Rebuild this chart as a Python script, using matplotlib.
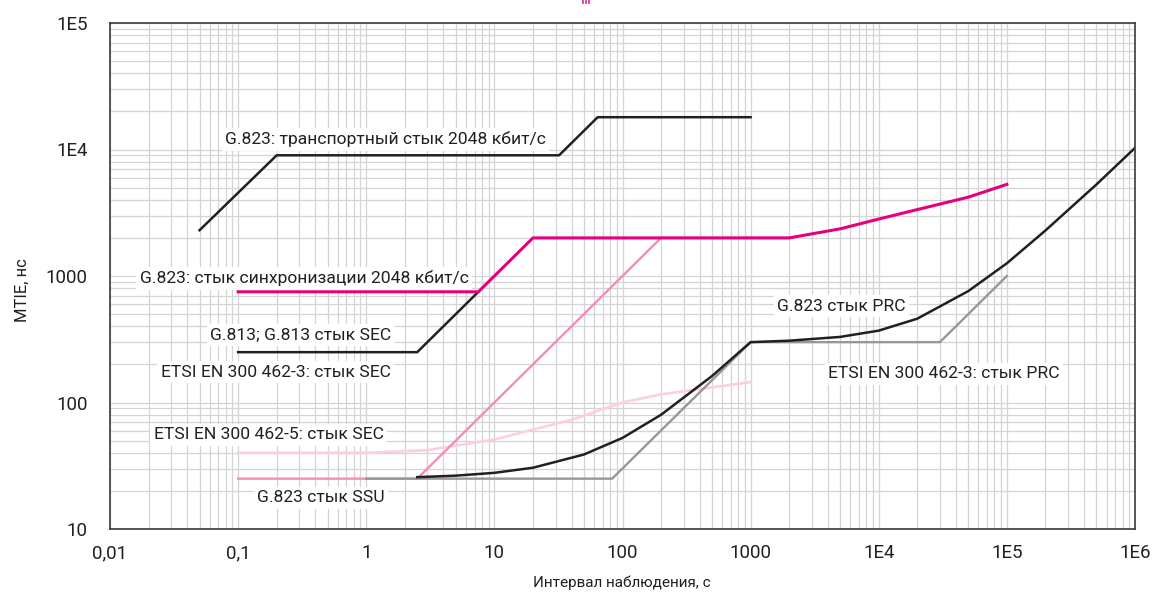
import matplotlib
matplotlib.use("Agg")
import matplotlib.pyplot as plt
from matplotlib.patches import Rectangle

FONT = ['Roboto', 'DejaVu Sans']
plt.rcParams['font.family'] = FONT

# ---- data ----
tr_x = [0.05, 0.2, 32, 64, 1000]
tr_y = [2300, 9000, 9000, 18000, 18000]

sync_x = [0.1, 7.5, 20, 2000, 5000, 10000, 20000, 50000, 100000]
sync_y = [750, 750, 2000, 2000, 2360, 2820, 3350, 4200, 5300]

sec_x = [0.1, 2.5, 7.5]
sec_y = [250, 250, 750]

ssu_x = [0.1, 2.5, 200, 2000]
ssu_y = [25, 25, 2000, 2000]

etsi5_x = [0.1, 1, 3, 10, 20, 40, 100, 200, 1000]
etsi5_y = [40, 40, 42, 51, 61, 73, 100, 116, 145]

prc_x = [2.5, 5, 10, 20, 50, 100, 200, 500, 1000, 2000, 5000, 10000, 20000, 50000,
         100000, 200000, 500000, 1000000]
prc_y = [25.7, 26.4, 27.8, 30.5, 38.8, 52.5, 80, 162, 300, 308, 330, 370, 460, 760,
         1260, 2290, 5290, 10300]

eprc_x = [1, 83, 1000, 30000, 100000]
eprc_y = [25, 25, 300, 300, 1000]

x_ticks = [0.01, 0.1, 1, 10, 100, 1000, 1e4, 1e5, 1e6]
x_tick_labels = ['0,01', '0,1', '1', '10', '100', '1000', '1E4', '1E5', '1E6']
y_ticks = [10, 100, 1000, 1e4, 1e5]
y_tick_labels = ['10', '100', '1000', '1E4', '1E5']

labels = [
    ('G.823: транспортный стык 2048 кбит/с', 0.079, 12100),
    ('G.823: стык синхронизации 2048 кбит/с', 0.0171, 963),
    ('G.813; G.813 стык SEC', 0.0604, 342),
    ('ETSI EN 300 462-3: стык SEC', 0.025, 174),
    ('ETSI EN 300 462-5: стык SEC', 0.022, 55.4),
    ('G.823 стык SSU', 0.1406, 17.6),
    ('G.823 стык PRC', 1611, 579),
    ('ETSI EN 300 462-3: стык PRC', 4027, 168),
]

W, H = 1152, 599
fig = plt.figure(figsize=(W / 100, H / 100), dpi=100)
ax = fig.add_axes([110 / W, 1 - 529 / H, 1025 / W, 506 / H])
ax.set_xscale('log')
ax.set_yscale('log')
ax.set_xlim(0.01, 1e6)
ax.set_ylim(10, 1e5)

ax.grid(which='both', color='#d4d4d4', lw=0.9)
ax.set_axisbelow(True)

BLACK = '#231f20'
MAGENTA = '#e5007d'
PINK = '#f28dba'
LPINK = '#fbcfe0'
GRAY = '#979797'

ax.plot(etsi5_x, etsi5_y, color=LPINK, lw=1.9, zorder=2)
ax.plot(ssu_x, ssu_y, color=PINK, lw=1.7, zorder=2.1)
ax.plot(eprc_x, eprc_y, color=GRAY, lw=1.7, zorder=2.2)
ax.plot(prc_x, prc_y, color=BLACK, lw=1.8, zorder=2.3)
ax.plot(tr_x, tr_y, color=BLACK, lw=1.8, zorder=2.3)
ax.plot(sec_x, sec_y, color=BLACK, lw=1.8, zorder=2.3)
ax.plot(sync_x, sync_y, color=MAGENTA, lw=2.2, zorder=2.4)

for txt, lx, ly in labels:
    ax.text(lx, ly, txt, ha='left', va='center', fontsize=12.6, color='#231f20',
            family=FONT, zorder=3,
            bbox=dict(facecolor='white', edgecolor='none', pad=2.5))

ax.set_xticks(x_ticks)
ax.set_xticklabels(x_tick_labels)
ax.set_yticks(y_ticks)
ax.set_yticklabels(y_tick_labels)
ax.tick_params(which='both', length=0)
ax.tick_params(axis='x', pad=11, labelsize=13.5, labelcolor='#231f20')
ax.tick_params(axis='y', pad=16, labelsize=13.5, labelcolor='#231f20')

for s in ax.spines.values():
    s.set_color('#3a3a3a')
    s.set_linewidth(1.2)

fig.text(622 / W, 1 - 583 / H, 'Интервал наблюдения, с', ha='center', va='center',
         fontsize=11, color='#231f20')
fig.text(22 / W, 1 - 290 / H, 'MTIE, нс', ha='center', va='center', rotation=90,
         fontsize=12, color='#231f20')

for px in (582, 585, 588):
    fig.patches.append(Rectangle((px / W, 1 - 4 / H), 1.5 / W, 4 / H,
                                 transform=fig.transFigure, color='#ec4fa3', lw=0))

fig.savefig('out.png', dpi=100)
